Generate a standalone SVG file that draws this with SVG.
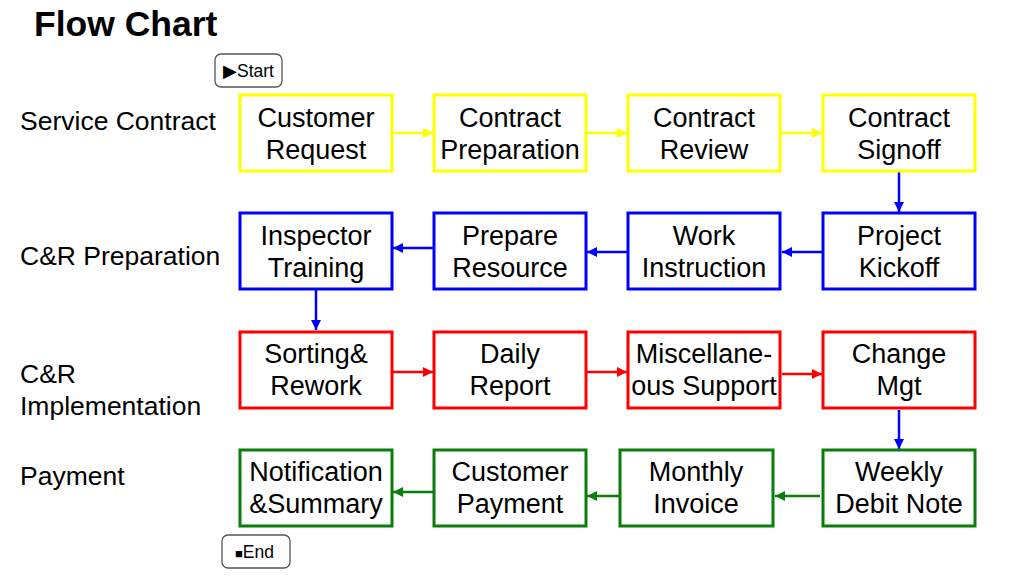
<svg xmlns="http://www.w3.org/2000/svg" width="1015" height="587" viewBox="0 0 1015 587">
<style>
text{font-family:"Liberation Sans",Arial,sans-serif;fill:#000}
.t{font-size:27px;text-anchor:middle}
.lbl{font-size:26.5px}
.title{font-size:35.5px;font-weight:bold}
.badge{fill:#fff;stroke:#555;stroke-width:1.3}
.bt{font-size:17.5px}
.y{fill:#fff;stroke:#ffff00;stroke-width:3}
.b{fill:#fff;stroke:#0000ff;stroke-width:3}
.r{fill:#fff;stroke:#ff0000;stroke-width:3}
.g{fill:#fff;stroke:#0a7d0a;stroke-width:3}
.cy{stroke:#ffff00;stroke-width:2.5;fill:none;marker-end:url(#ay)}
.cb{stroke:#0000ff;stroke-width:2.5;fill:none;marker-end:url(#ab)}
.cr{stroke:#ff0000;stroke-width:2.5;fill:none;marker-end:url(#ar)}
.cg{stroke:#0a7d0a;stroke-width:2.5;fill:none;marker-end:url(#ag)}
</style>
<defs>
<marker id="ay" markerWidth="4" markerHeight="4" refX="4" refY="2" orient="auto" markerUnits="strokeWidth"><path d="M0,0 L4,2 L0,4 z" fill="#ffff00"/></marker>
<marker id="ab" markerWidth="4" markerHeight="4" refX="4" refY="2" orient="auto" markerUnits="strokeWidth"><path d="M0,0 L4,2 L0,4 z" fill="#0000ff"/></marker>
<marker id="ar" markerWidth="4" markerHeight="4" refX="4" refY="2" orient="auto" markerUnits="strokeWidth"><path d="M0,0 L4,2 L0,4 z" fill="#ff0000"/></marker>
<marker id="ag" markerWidth="4" markerHeight="4" refX="4" refY="2" orient="auto" markerUnits="strokeWidth"><path d="M0,0 L4,2 L0,4 z" fill="#0a7d0a"/></marker>
</defs>
<text class="title" x="34" y="36">Flow Chart</text>
<g id="lane-labels">
<text class="lbl" x="20" y="130">Service Contract</text>
<text class="lbl" x="20" y="265">C&amp;R Preparation</text>
<text class="lbl" x="20" y="383">C&amp;R</text>
<text class="lbl" x="20" y="415">Implementation</text>
<text class="lbl" x="20" y="485">Payment</text>
</g>
<g id="start"><rect class="badge" x="215" y="54" width="67" height="33" rx="6"/><text class="bt" x="223" y="77">▶Start</text></g>
<g id="end"><rect class="badge" x="222" y="535" width="68" height="33" rx="6"/><text class="bt" x="235" y="558"><tspan font-size="13">■</tspan>End</text></g>
<g id="connectors">
<line class="cy" x1="393" y1="133" x2="433" y2="133"/>
<line class="cy" x1="587" y1="133" x2="627" y2="133"/>
<line class="cy" x1="781" y1="133" x2="822" y2="133"/>
<line class="cb" x1="899" y1="172" x2="899" y2="212"/>
<line class="cb" x1="822" y1="252" x2="782" y2="252"/>
<line class="cb" x1="627" y1="252" x2="587" y2="252"/>
<line class="cb" x1="433" y1="248" x2="393" y2="248"/>
<line class="cb" x1="316" y1="290" x2="316" y2="330"/>
<line class="cr" x1="393" y1="372" x2="433" y2="372"/>
<line class="cr" x1="587" y1="372" x2="627" y2="372"/>
<line class="cr" x1="782" y1="374" x2="822" y2="374"/>
<line class="cb" x1="899" y1="410" x2="899" y2="449"/>
<line class="cg" x1="820" y1="496" x2="775" y2="496"/>
<line class="cg" x1="627" y1="496" x2="587" y2="496"/>
<line class="cg" x1="433" y1="492" x2="393" y2="492"/>
</g>
<g id="customer-request"><rect class="y" x="240" y="95" width="152" height="76"/><text class="t" x="316" y="127">Customer</text><text class="t" x="316" y="159">Request</text></g>
<g id="contract-preparation"><rect class="y" x="434" y="95" width="152" height="76"/><text class="t" x="510" y="127">Contract</text><text class="t" x="510" y="159">Preparation</text></g>
<g id="contract-review"><rect class="y" x="628" y="95" width="152" height="76"/><text class="t" x="704" y="127">Contract</text><text class="t" x="704" y="159">Review</text></g>
<g id="contract-signoff"><rect class="y" x="823" y="95" width="152" height="76"/><text class="t" x="899" y="127">Contract</text><text class="t" x="899" y="159">Signoff</text></g>
<g id="inspector-training"><rect class="b" x="240" y="213" width="152" height="76"/><text class="t" x="316" y="245">Inspector</text><text class="t" x="316" y="277">Training</text></g>
<g id="prepare-resource"><rect class="b" x="434" y="213" width="152" height="76"/><text class="t" x="510" y="245">Prepare</text><text class="t" x="510" y="277">Resource</text></g>
<g id="work-instruction"><rect class="b" x="628" y="213" width="152" height="76"/><text class="t" x="704" y="245">Work</text><text class="t" x="704" y="277">Instruction</text></g>
<g id="project-kickoff"><rect class="b" x="823" y="213" width="152" height="76"/><text class="t" x="899" y="245">Project</text><text class="t" x="899" y="277">Kickoff</text></g>
<g id="sorting-rework"><rect class="r" x="240" y="332" width="152" height="76"/><text class="t" x="316" y="363">Sorting&amp;</text><text class="t" x="316" y="395">Rework</text></g>
<g id="daily-report"><rect class="r" x="434" y="332" width="152" height="76"/><text class="t" x="510" y="363">Daily</text><text class="t" x="510" y="395">Report</text></g>
<g id="misc-support"><rect class="r" x="628" y="332" width="152" height="76"/><text class="t" x="704" y="363">Miscellane-</text><text class="t" x="704" y="395">ous Support</text></g>
<g id="change-mgt"><rect class="r" x="823" y="332" width="152" height="76"/><text class="t" x="899" y="363">Change</text><text class="t" x="899" y="395">Mgt</text></g>
<g id="notification-summary"><rect class="g" x="240" y="450" width="152" height="76"/><text class="t" x="316" y="481">Notification</text><text class="t" x="316" y="513">&amp;Summary</text></g>
<g id="customer-payment"><rect class="g" x="434" y="450" width="152" height="76"/><text class="t" x="510" y="481">Customer</text><text class="t" x="510" y="513">Payment</text></g>
<g id="monthly-invoice"><rect class="g" x="620" y="450" width="153" height="76"/><text class="t" x="696" y="481">Monthly</text><text class="t" x="696" y="513">Invoice</text></g>
<g id="weekly-debit-note"><rect class="g" x="823" y="450" width="152" height="76"/><text class="t" x="899" y="481">Weekly</text><text class="t" x="899" y="513">Debit Note</text></g>
</svg>
